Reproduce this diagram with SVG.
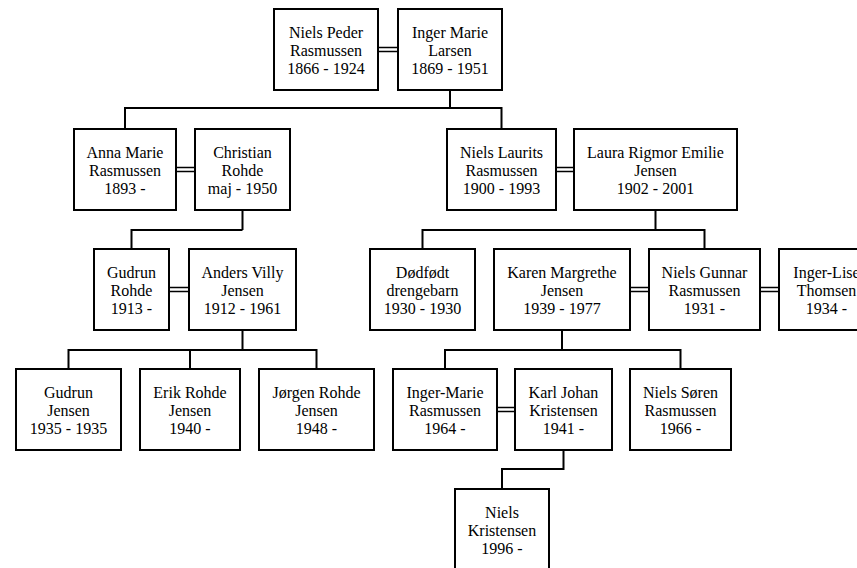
<svg xmlns="http://www.w3.org/2000/svg" width="857" height="568" viewBox="0 0 857 568">
<style>
.box{fill:#fff;stroke:#000;stroke-width:2}
.t{font-family:"Liberation Serif","Times New Roman",serif;font-size:16px;fill:#000;text-anchor:middle}
.c{fill:none;stroke:#000;stroke-width:2}
.d{fill:none;stroke:#000;stroke-width:1.6}
</style>
<rect width="857" height="568" fill="#fff"/>
<g id="connectors">
<path class="d" d="M378 47.5H398M378 51.5H398"/>
<path class="c" d="M450 90V108M125 129V108H501.5V129"/>
<path class="d" d="M176 167.5H195M176 171.5H195M556 167.5H574M556 171.5H574"/>
<path class="c" d="M242.5 210V230M131.5 249V230H242.5"/>
<path class="c" d="M655.5 210V230M422.5 249V230H704.5V249"/>
<path class="d" d="M169 287.5H189M169 291.5H189M630 287.5H649M630 291.5H649M760 287.5H779M760 291.5H779"/>
<path class="c" d="M242.5 330V350M68.5 369V350H316.5V369M190 350V369"/>
<path class="c" d="M562 330V350M445 369V350H680.5V369"/>
<path class="d" d="M497 407.5H515M497 411.5H515"/>
<path class="c" d="M563.5 450V469H502V489"/>
</g>
<g id="n1"><rect class="box" x="274" y="9" width="104" height="81"/><text class="t" x="326" y="37.5">Niels Peder</text><text class="t" x="326" y="55.5">Rasmussen</text><text class="t" x="326" y="73.5">1866 - 1924</text></g>
<g id="n2"><rect class="box" x="398" y="9" width="104" height="81"/><text class="t" x="450" y="37.5">Inger Marie</text><text class="t" x="450" y="55.5">Larsen</text><text class="t" x="450" y="73.5">1869 - 1951</text></g>
<g id="n3"><rect class="box" x="74" y="129" width="102" height="81"/><text class="t" x="125" y="157.5">Anna Marie</text><text class="t" x="125" y="175.5">Rasmussen</text><text class="t" x="125" y="193.5">1893 -</text></g>
<g id="n4"><rect class="box" x="195" y="129" width="95" height="81"/><text class="t" x="242.5" y="157.5">Christian</text><text class="t" x="242.5" y="175.5">Rohde</text><text class="t" x="242.5" y="193.5">maj - 1950</text></g>
<g id="n5"><rect class="box" x="447" y="129" width="109" height="81"/><text class="t" x="501.5" y="157.5">Niels Laurits</text><text class="t" x="501.5" y="175.5">Rasmussen</text><text class="t" x="501.5" y="193.5">1900 - 1993</text></g>
<g id="n6"><rect class="box" x="574" y="129" width="163" height="81"/><text class="t" x="655.5" y="157.5">Laura Rigmor Emilie</text><text class="t" x="655.5" y="175.5">Jensen</text><text class="t" x="655.5" y="193.5">1902 - 2001</text></g>
<g id="n7"><rect class="box" x="94" y="249" width="75" height="81"/><text class="t" x="131.5" y="277.5">Gudrun</text><text class="t" x="131.5" y="295.5">Rohde</text><text class="t" x="131.5" y="313.5">1913 -</text></g>
<g id="n8"><rect class="box" x="189" y="249" width="107" height="81"/><text class="t" x="242.5" y="277.5">Anders Villy</text><text class="t" x="242.5" y="295.5">Jensen</text><text class="t" x="242.5" y="313.5">1912 - 1961</text></g>
<g id="n9"><rect class="box" x="370" y="249" width="105" height="81"/><text class="t" x="422.5" y="277.5">Dødfødt</text><text class="t" x="422.5" y="295.5">drengebarn</text><text class="t" x="422.5" y="313.5">1930 - 1930</text></g>
<g id="n10"><rect class="box" x="494" y="249" width="136" height="81"/><text class="t" x="562" y="277.5">Karen Margrethe</text><text class="t" x="562" y="295.5">Jensen</text><text class="t" x="562" y="313.5">1939 - 1977</text></g>
<g id="n11"><rect class="box" x="649" y="249" width="111" height="81"/><text class="t" x="704.5" y="277.5">Niels Gunnar</text><text class="t" x="704.5" y="295.5">Rasmussen</text><text class="t" x="704.5" y="313.5">1931 -</text></g>
<g id="n12"><rect class="box" x="779" y="249" width="95" height="81"/><text class="t" x="826.5" y="277.5">Inger-Lise</text><text class="t" x="826.5" y="295.5">Thomsen</text><text class="t" x="826.5" y="313.5">1934 -</text></g>
<g id="n13"><rect class="box" x="16" y="369" width="105" height="81"/><text class="t" x="68.5" y="397.5">Gudrun</text><text class="t" x="68.5" y="415.5">Jensen</text><text class="t" x="68.5" y="433.5">1935 - 1935</text></g>
<g id="n14"><rect class="box" x="140" y="369" width="100" height="81"/><text class="t" x="190" y="397.5">Erik Rohde</text><text class="t" x="190" y="415.5">Jensen</text><text class="t" x="190" y="433.5">1940 -</text></g>
<g id="n15"><rect class="box" x="259" y="369" width="115" height="81"/><text class="t" x="316.5" y="397.5">Jørgen Rohde</text><text class="t" x="316.5" y="415.5">Jensen</text><text class="t" x="316.5" y="433.5">1948 -</text></g>
<g id="n16"><rect class="box" x="393" y="369" width="104" height="81"/><text class="t" x="445" y="397.5">Inger-Marie</text><text class="t" x="445" y="415.5">Rasmussen</text><text class="t" x="445" y="433.5">1964 -</text></g>
<g id="n17"><rect class="box" x="515" y="369" width="97" height="81"/><text class="t" x="563.5" y="397.5">Karl Johan</text><text class="t" x="563.5" y="415.5">Kristensen</text><text class="t" x="563.5" y="433.5">1941 -</text></g>
<g id="n18"><rect class="box" x="630" y="369" width="101" height="81"/><text class="t" x="680.5" y="397.5">Niels Søren</text><text class="t" x="680.5" y="415.5">Rasmussen</text><text class="t" x="680.5" y="433.5">1966 -</text></g>
<g id="n19"><rect class="box" x="455" y="489" width="94" height="81"/><text class="t" x="502" y="517.5">Niels</text><text class="t" x="502" y="535.5">Kristensen</text><text class="t" x="502" y="553.5">1996 -</text></g>
</svg>
